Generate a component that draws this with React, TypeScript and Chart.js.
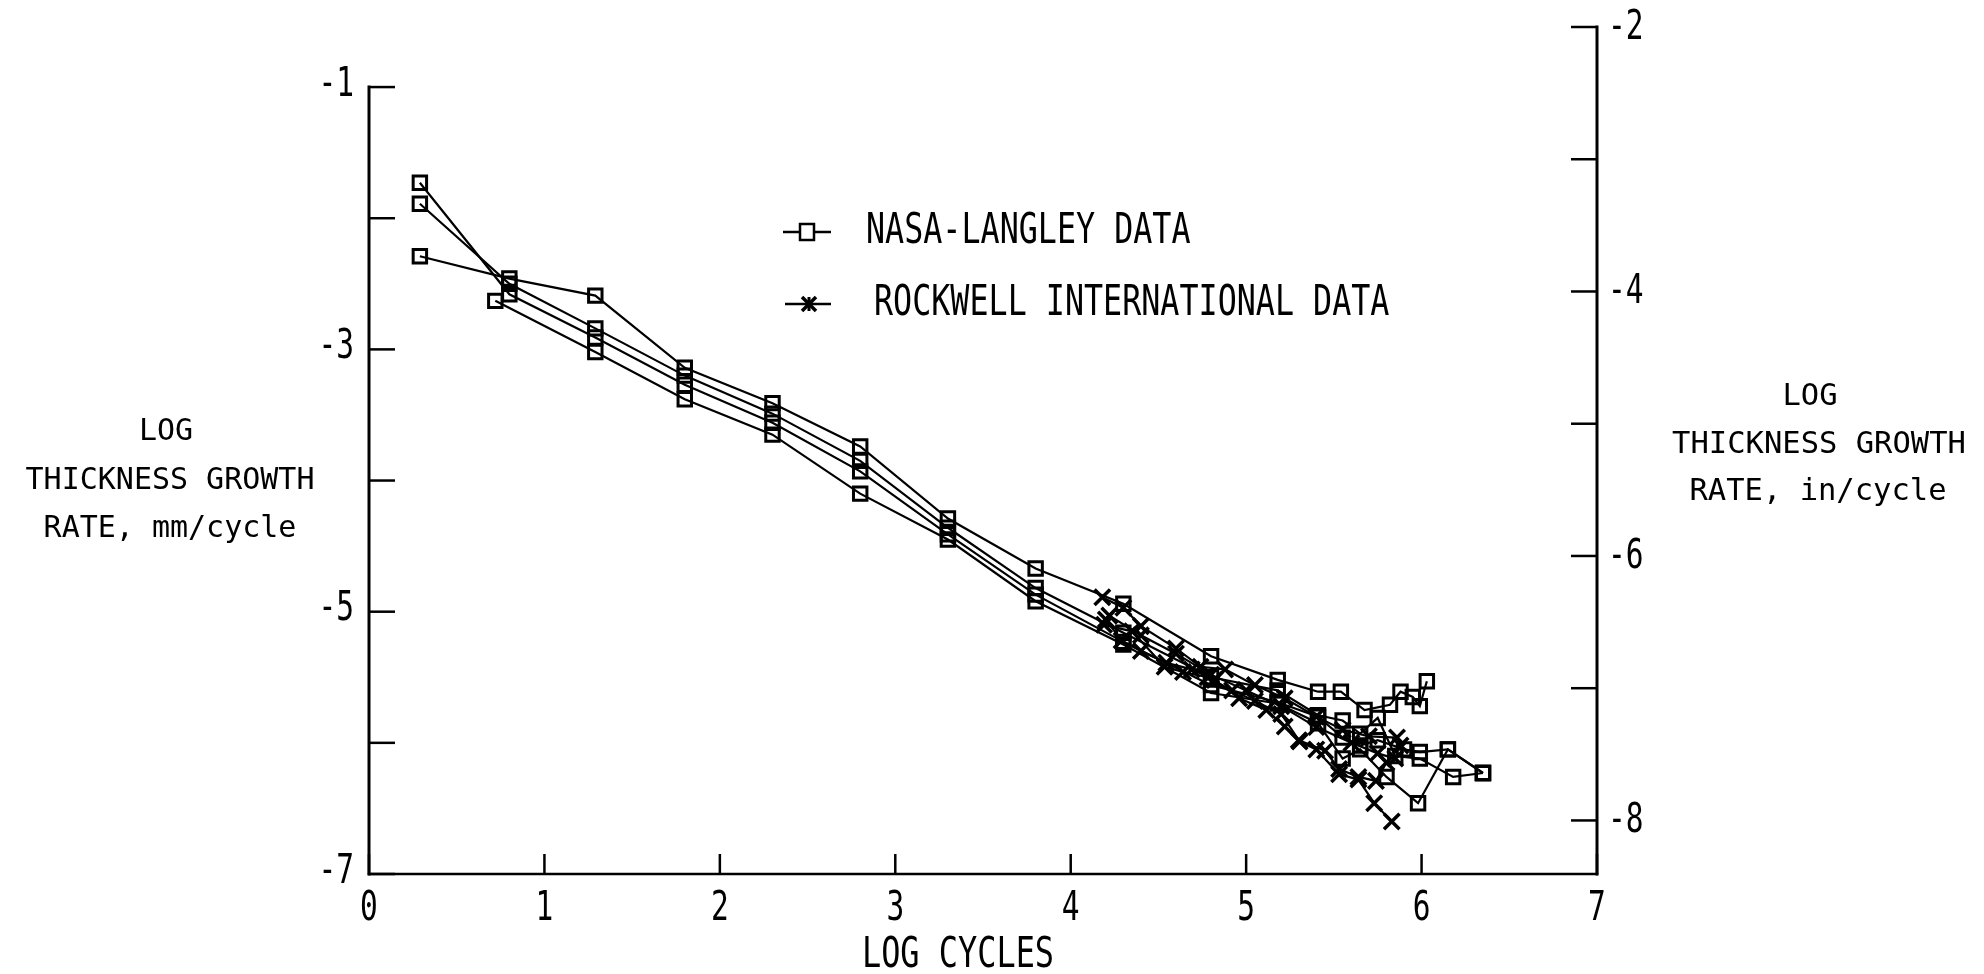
import React, { useEffect, useRef } from "react";
import { Chart, registerables } from "chart.js";

Chart.register(...registerables);

// ---------- data ----------
const xTickValues = [0, 1, 2, 3, 4, 5, 6, 7];
const xTickLabels = ["0", "1", "2", "3", "4", "5", "6", "7"];
const leftTickValues = [-1, -2, -3, -4, -5, -6, -7];
const leftTickLabels = ["-1", "", "-3", "", "-5", "", "-7"];
const rightTickValues = [-2, -3, -4, -5, -6, -7, -8];
const rightTickLabels = ["-2", "", "-4", "", "-6", "", "-8"];

const xTitle = "LOG CYCLES";
const leftTitle = ["LOG", "THICKNESS GROWTH", "RATE, mm/cycle"];
const rightTitle = ["LOG", "THICKNESS GROWTH", "RATE, in/cycle"];
const nasaLabel = "NASA-LANGLEY DATA";
const rockwellLabel = "ROCKWELL INTERNATIONAL DATA";

// NASA-Langley specimens (log cycles, log mm/cycle)
const nasa1X = [0.29, 0.8, 1.29, 1.8, 2.3, 2.8, 3.3, 3.8, 4.3, 4.8, 5.18, 5.41, 5.55, 5.65, 5.75, 5.9, 5.99, 6.15, 6.35];
const nasa1Y = [-1.73, -2.58, -2.91, -3.27, -3.56, -3.93, -4.41, -4.87, -5.23, -5.56, -5.69, -5.8, -5.96, -6.02, -5.98, -6.05, -6.07, -6.05, -6.23];
const nasa2X = [0.29, 0.8, 1.29, 1.8, 2.3, 2.8, 3.3, 3.8, 4.3, 4.8, 5.18, 5.41, 5.55, 5.65, 5.75, 5.85, 5.99, 6.18, 6.35];
const nasa2Y = [-1.89, -2.5, -2.84, -3.2, -3.49, -3.85, -4.36, -4.82, -5.16, -5.5, -5.6, -5.79, -5.83, -5.93, -5.81, -6.1, -6.12, -6.26, -6.23];
const nasa3X = [0.29, 0.8, 1.29, 1.8, 2.3, 2.8, 3.3, 3.8, 4.3, 4.8, 5.18, 5.41, 5.54, 5.675, 5.82, 5.88, 5.95, 5.99, 6.03];
const nasa3Y = [-2.29, -2.46, -2.59, -3.14, -3.41, -3.74, -4.29, -4.67, -4.94, -5.34, -5.52, -5.61, -5.61, -5.75, -5.71, -5.61, -5.65, -5.72, -5.53];
const nasa4X = [0.72, 1.29, 1.8, 2.3, 2.8, 3.3, 3.8, 4.3, 4.8, 5.18, 5.41, 5.55, 5.65, 5.8, 5.98, 6.15, 6.35];
const nasa4Y = [-2.63, -3.02, -3.38, -3.65, -4.1, -4.45, -4.92, -5.25, -5.62, -5.7, -5.85, -6.12, -6.05, -6.26, -6.46, -6.05, -6.23];

// Rockwell International specimens
const rock1X = [4.18, 4.3, 4.4, 4.6, 4.74, 4.88, 5.05, 5.22, 5.4, 5.55, 5.7, 5.86];
const rock1Y = [-4.89, -4.97, -5.11, -5.28, -5.42, -5.44, -5.56, -5.66, -5.8, -5.9, -5.95, -5.96];
const rock2X = [4.2, 4.29, 4.4, 4.545, 4.69, 4.82, 4.96, 5.115, 5.22, 5.305, 5.4, 5.53, 5.64, 5.73, 5.83];
const rock2Y = [-5.06, -5.22, -5.3, -5.39, -5.44, -5.52, -5.66, -5.75, -5.875, -5.99, -6.05, -6.24, -6.28, -6.46, -6.6];
const rock3X = [4.19, 4.35, 4.535, 4.64, 4.78, 4.92, 5.05, 5.2, 5.3, 5.45, 5.53, 5.64, 5.74, 5.8, 5.88];
const rock3Y = [-5.1, -5.15, -5.42, -5.46, -5.5, -5.6, -5.68, -5.78, -5.98, -6.06, -6.2, -6.26, -6.29, -6.15, -6.02];
const rock4X = [4.22, 4.4, 4.6, 4.8, 5.0, 5.2, 5.4, 5.6, 5.75, 5.85];
const rock4Y = [-5.03, -5.18, -5.32, -5.48, -5.6, -5.72, -5.88, -6.0, -6.08, -6.12];

const nasaSeries = [[nasa1X, nasa1Y], [nasa2X, nasa2Y], [nasa3X, nasa3Y], [nasa4X, nasa4Y]];
const rockSeries = [[rock1X, rock1Y], [rock2X, rock2Y], [rock3X, rock3Y], [rock4X, rock4Y]];

// axis ranges
const xMin = 0;
const xMax = 7;
const yLeftMin = -7;
const yLeftMax = -0.542;
const yRightMin = -8.405;
const yRightMax = -2;

// ---------- layout ----------
const W = 1984;
const H = 974;
const AREA_L = 369;
const AREA_R = 1597;
const AREA_T = 27;
const AREA_B = 874;
const AXIS_W = 100;
const AXIS_H = 60;

const MONO = '"DejaVu Sans Mono", "Liberation Mono", monospace';

function drawText(ctx: CanvasRenderingContext2D, s: string, x: number, y: number, size: number, sx: number, align: CanvasTextAlign) {
  ctx.save();
  ctx.font = `${size}px ${MONO}`;
  ctx.fillStyle = "#000";
  ctx.textBaseline = "middle";
  ctx.textAlign = align;
  ctx.translate(x, y);
  ctx.scale(sx, 1);
  ctx.fillText(s, 0, 0);
  ctx.restore();
}

function seg(ctx: CanvasRenderingContext2D, x1: number, y1: number, x2: number, y2: number) {
  ctx.beginPath();
  ctx.moveTo(x1, y1);
  ctx.lineTo(x2, y2);
  ctx.stroke();
}

const decorPlugin = {
  id: "decor",
  beforeDatasetsDraw(chart: any) {
    const ctx: CanvasRenderingContext2D = chart.ctx;
    const xs = chart.scales.x;
    const yl = chart.scales.y;
    const yr = chart.scales.y2;
    const x0 = xs.getPixelForValue(xMin);
    const x7 = xs.getPixelForValue(xMax);
    const yb = yl.getPixelForValue(yLeftMin);
    ctx.save();
    ctx.strokeStyle = "#000";
    ctx.lineCap = "square";
    ctx.lineWidth = 3;
    seg(ctx, x0, yl.getPixelForValue(-1), x0, yb);
    seg(ctx, x7, yr.getPixelForValue(yRightMax), x7, yr.getPixelForValue(yRightMin));
    ctx.lineWidth = 2.5;
    seg(ctx, x0, yb, x7, yb);
    ctx.lineCap = "butt";
    leftTickValues.forEach((v) => {
      const y = yl.getPixelForValue(v);
      seg(ctx, x0, y, x0 + 26, y);
    });
    rightTickValues.forEach((v) => {
      const y = yr.getPixelForValue(v);
      seg(ctx, x7 - 26, y, x7, y);
    });
    xTickValues.forEach((v) => {
      const x = xs.getPixelForValue(v);
      seg(ctx, x, yb, x, yb - 20);
    });
    ctx.restore();
  },
  afterDraw(chart: any) {
    const ctx: CanvasRenderingContext2D = chart.ctx;
    const xs = chart.scales.x;
    const yl = chart.scales.y;
    const yr = chart.scales.y2;
    const x0 = xs.getPixelForValue(xMin);
    const x7 = xs.getPixelForValue(xMax);
    const yb = yl.getPixelForValue(yLeftMin);
    leftTickValues.forEach((v, i) => {
      if (leftTickLabels[i]) drawText(ctx, leftTickLabels[i], x0 - 15, yl.getPixelForValue(v) - 2, 41, 0.72, "right");
    });
    rightTickValues.forEach((v, i) => {
      if (rightTickLabels[i]) drawText(ctx, rightTickLabels[i], x7 + 11, yr.getPixelForValue(v) + 1, 41, 0.72, "left");
    });
    xTickValues.forEach((v, i) => {
      drawText(ctx, xTickLabels[i], xs.getPixelForValue(v), yb + 35, 41, 0.72, "center");
    });
    drawText(ctx, xTitle, (x0 + x7) / 2 - 25, yb + 82, 42, 0.76, "center");
    const lc = [166, 170, 170];
    const ly = [432, 481, 529];
    leftTitle.forEach((t, i) => drawText(ctx, t, lc[i], ly[i], 30, 1, "center"));
    const rc = [1810, 1819, 1818];
    const ry = [397, 445, 492];
    rightTitle.forEach((t, i) => drawText(ctx, t, rc[i], ry[i], 30.5, 1, "center"));

    // legend
    ctx.save();
    ctx.strokeStyle = "#000";
    ctx.lineWidth = 2.5;
    const ly1 = 232;
    const ly2 = 304;
    seg(ctx, 783, ly1, 831, ly1);
    ctx.fillStyle = "#fff";
    ctx.fillRect(800, ly1 - 8, 14, 16);
    ctx.strokeRect(800, ly1 - 8, 14, 16);
    seg(ctx, 785, ly2, 831, ly2);
    ctx.lineWidth = 3.5;
    seg(ctx, 802, ly2 - 7, 816, ly2 + 7);
    seg(ctx, 802, ly2 + 7, 816, ly2 - 7);
    ctx.lineWidth = 3;
    seg(ctx, 809, ly2 - 7, 809, ly2 + 7);
    ctx.restore();
    drawText(ctx, nasaLabel, 866, ly1, 42, 0.755, "left");
    drawText(ctx, rockwellLabel, 874, ly2, 42, 0.755, "left");
  },
};

function toPoints(xs: number[], ys: number[]) {
  return xs.map((x, i) => ({ x, y: ys[i] }));
}

export default function App() {
  const ref = useRef<HTMLCanvasElement | null>(null);
  useEffect(() => {
    if (!ref.current) return;
    const datasets: any[] = [];
    nasaSeries.forEach(([xs, ys], i) => {
      datasets.push({
        label: i === 0 ? nasaLabel : nasaLabel + " " + (i + 1),
        data: toPoints(xs, ys),
        showLine: true,
        borderColor: "#000",
        borderWidth: 2.2,
        tension: 0,
        pointStyle: "rect",
        pointRadius: 9.5,
        pointBackgroundColor: "rgba(255,255,255,0)",
        pointBorderColor: "#000",
        pointBorderWidth: 3,
        yAxisID: "y",
      });
    });
    rockSeries.forEach(([xs, ys], i) => {
      datasets.push({
        label: i === 0 ? rockwellLabel : rockwellLabel + " " + (i + 1),
        data: toPoints(xs, ys),
        showLine: true,
        borderColor: "#000",
        borderWidth: 2.2,
        tension: 0,
        pointStyle: "crossRot",
        pointRadius: 11,
        pointBorderColor: "#000",
        pointBorderWidth: 3.5,
        yAxisID: "y",
      });
    });
    const hidden = {
      grid: { display: false, drawTicks: false },
      border: { display: false },
      ticks: { display: false },
    };
    const chart = new Chart(ref.current, {
      type: "scatter",
      data: { datasets },
      options: {
        responsive: false,
        animation: false,
        devicePixelRatio: 1,
        layout: {
          padding: {
            left: AREA_L - AXIS_W,
            right: W - AREA_R - AXIS_W,
            top: AREA_T,
            bottom: H - AREA_B - AXIS_H,
          },
        },
        plugins: { legend: { display: false }, tooltip: { enabled: false } },
        scales: {
          x: {
            type: "linear",
            position: "bottom",
            min: xMin,
            max: xMax,
            ...hidden,
            afterBuildTicks: (ax: any) => {
              ax.ticks = xTickValues.map((v) => ({ value: v }));
            },
            afterFit: (s: any) => {
              s.height = AXIS_H;
            },
          },
          y: {
            type: "linear",
            position: "left",
            min: yLeftMin,
            max: yLeftMax,
            ...hidden,
            afterBuildTicks: (ax: any) => {
              ax.ticks = leftTickValues.map((v) => ({ value: v }));
            },
            afterFit: (s: any) => {
              s.width = AXIS_W;
            },
          },
          y2: {
            type: "linear",
            position: "right",
            min: yRightMin,
            max: yRightMax,
            ...hidden,
            afterBuildTicks: (ax: any) => {
              ax.ticks = rightTickValues.map((v) => ({ value: v }));
            },
            afterFit: (s: any) => {
              s.width = AXIS_W;
            },
          },
        },
      } as any,
      plugins: [decorPlugin],
    });
    return () => chart.destroy();
  }, []);
  return (
    <div style={{ position: "fixed", left: 0, top: 0, width: W, height: H, background: "#fff" }}>
      <canvas ref={ref} width={W} height={H} style={{ display: "block", width: W, height: H }} />
    </div>
  );
}
